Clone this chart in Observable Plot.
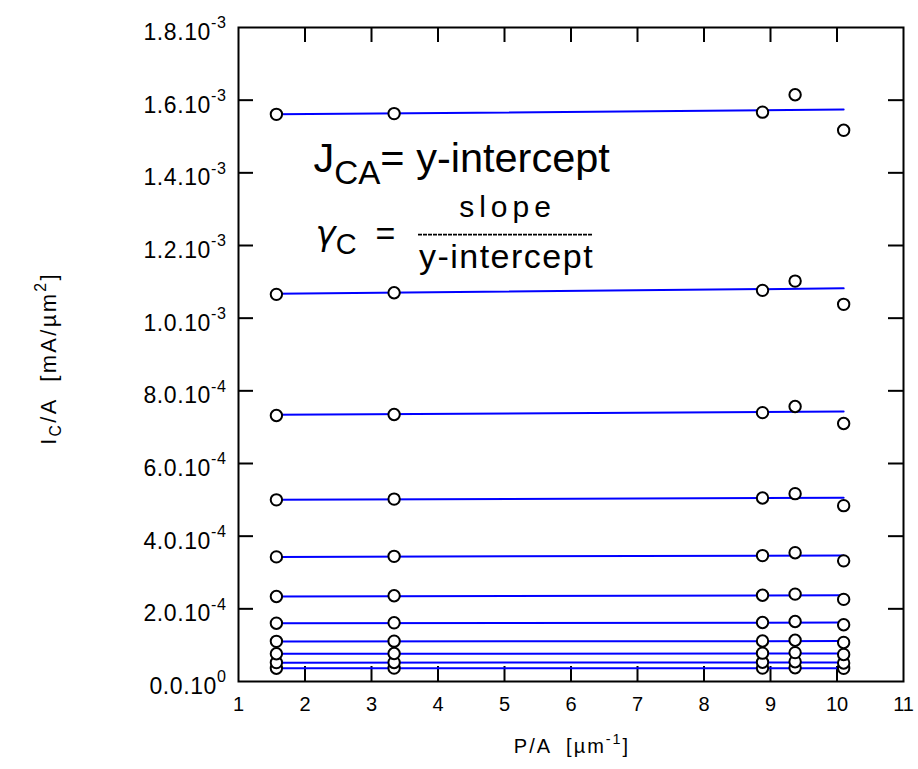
<!DOCTYPE html>
<html>
<head>
<meta charset="utf-8">
<script src="https://cdn.jsdelivr.net/npm/d3@7"></script>
<script src="https://cdn.jsdelivr.net/npm/@observablehq/plot@0.6"></script>
<style>
  html, body { margin: 0; padding: 0; background: #fff; }
  #chart svg { display: block; background: #fff; }
  #chart svg text { font-family: "Liberation Sans", Arial, sans-serif; white-space: pre; fill: #000; }
</style>
</head>
<body>
<div id="chart"></div>
<script>
// Perimeter-to-area ratio of the five emitter geometries [µm^-1]
const pOverA = [1.57, 3.34, 8.88, 9.37, 10.1];

// Collector current density I_C/A [mA/µm^2] per base-emitter bias step, lowest step first
const step1  = [0.366e-4, 0.368e-4, 0.370e-4, 0.380e-4, 0.362e-4];
const step2  = [0.520e-4, 0.525e-4, 0.530e-4, 0.545e-4, 0.510e-4];
const step3  = [0.763e-4, 0.770e-4, 0.780e-4, 0.795e-4, 0.745e-4];
const step4  = [1.105e-4, 1.110e-4, 1.115e-4, 1.135e-4, 1.075e-4];
const step5  = [1.605e-4, 1.615e-4, 1.625e-4, 1.652e-4, 1.562e-4];
const step6  = [2.340e-4, 2.360e-4, 2.375e-4, 2.405e-4, 2.260e-4];
const step7  = [3.430e-4, 3.445e-4, 3.465e-4, 3.545e-4, 3.320e-4];
const step8  = [5.000e-4, 5.020e-4, 5.050e-4, 5.170e-4, 4.840e-4];
const step9  = [7.320e-4, 7.350e-4, 7.400e-4, 7.570e-4, 7.100e-4];
const step10 = [10.655e-4, 10.700e-4, 10.765e-4, 11.020e-4, 10.380e-4];
const step11 = [15.610e-4, 15.630e-4, 15.670e-4, 16.150e-4, 15.170e-4];
const steps = [step1, step2, step3, step4, step5, step6, step7, step8, step9, step10, step11];

// Straight-line fit of each step, evaluated at the smallest and the largest P/A
const fitAtMin = [0.362e-4, 0.518e-4, 0.762e-4, 1.103e-4, 1.605e-4, 2.340e-4, 3.430e-4, 5.000e-4, 7.340e-4, 10.675e-4, 15.610e-4];
const fitAtMax = [0.366e-4, 0.524e-4, 0.770e-4, 1.112e-4, 1.622e-4, 2.375e-4, 3.470e-4, 5.060e-4, 7.430e-4, 10.820e-4, 15.740e-4];

// Axes
const xTicks = [1, 2, 3, 4, 5, 6, 7, 8, 9, 10, 11];
const yTicks = [0, 0.0002, 0.0004, 0.0006, 0.0008, 0.0010, 0.0012, 0.0014, 0.0016, 0.0018];
const yTickLabels = ["0.0.10^{0}", "2.0.10^{-4}", "4.0.10^{-4}", "6.0.10^{-4}", "8.0.10^{-4}",
                     "1.0.10^{-3}", "1.2.10^{-3}", "1.4.10^{-3}", "1.6.10^{-3}", "1.8.10^{-3}"];
const xLabel = "P/A  [µm^{-1}]";
const yLabel = "I_{C}/A  [mA/µm^{2}]";

// Annotation
const eqIntercept = "J_{CA}= y-intercept";
const eqGamma = "γ_{C}  =";
const eqNumerator = "slope";
const eqDenominator = "y-intercept";

// Long-format tables for the marks
const points = steps.flatMap((vals, s) => vals.map((v, i) => ({step: s, pa: pOverA[i], j: v})));
const fits = steps.flatMap((_, s) => [
  {step: s, pa: pOverA[0], j: fitAtMin[s]},
  {step: s, pa: pOverA[pOverA.length - 1], j: fitAtMax[s]}
]);

const W = 918, H = 769;
const mL = 238, mR = 15, mT = 27, mB = 88;
const innerW = W - mL - mR, innerH = H - mT - mB;
const tickLen = 15;
const inner = (a) => a.slice(1, -1);

const svg = Plot.plot({
  width: W, height: H,
  marginLeft: mL, marginRight: mR, marginTop: mT, marginBottom: mB,
  x: {domain: [1, 11], label: null},
  y: {domain: [0, 0.0018], label: null},
  marks: [
    // inward ticks on all four sides
    Plot.tickX(inner(xTicks), {x: d => d, insetTop: innerH - tickLen, stroke: "#000", strokeWidth: 2}),
    Plot.tickX(inner(xTicks), {x: d => d, insetBottom: innerH - tickLen, stroke: "#000", strokeWidth: 2}),
    Plot.tickY(inner(yTicks), {y: d => d, insetRight: innerW - tickLen, stroke: "#000", strokeWidth: 2}),
    Plot.tickY(inner(yTicks), {y: d => d, insetLeft: innerW - tickLen, stroke: "#000", strokeWidth: 2}),
    Plot.axisX({ticks: xTicks, tickSize: 0, tickPadding: 15, fontSize: 20, label: null, tickFormat: d => String(d)}),
    Plot.axisY({ticks: yTicks, tickSize: 0, tickPadding: 12, fontSize: 23, dy: 5, label: null,
                tickFormat: d => yTickLabels[yTicks.indexOf(d)]}),
    // fitted lines, then the measured points over them
    Plot.line(fits, {x: "pa", y: "j", z: "step", stroke: "#0000ff", strokeWidth: 2}),
    Plot.dot(points, {x: "pa", y: "j", r: 5.7, stroke: "#000", strokeWidth: 2, fill: "#fff"}),
    // axis titles
    Plot.text([xLabel], {text: d => d, frameAnchor: "bottom", lineAnchor: "middle", dy: 65, dx: 1, fontSize: 20}),
    Plot.text([yLabel], {text: d => d, frameAnchor: "left", textAnchor: "middle", lineAnchor: "middle",
                         dx: -190, dy: 4, rotate: -90, fontSize: 22}),
    // equations
    Plot.text([eqIntercept], {text: d => d, x: 2.128, y: 1.4375e-3, textAnchor: "start", fontSize: 41.5}),
    Plot.text([eqGamma], {text: d => d, x: 2.158, y: 1.2305e-3, textAnchor: "start", fontSize: 34}),
    Plot.text([eqNumerator], {text: d => d, x: 5.015, y: 1.3054e-3, dx: 2, fontSize: 30}),
    Plot.ruleY([1.2299e-3], {x1: 3.707, x2: 6.323, stroke: "#000", strokeWidth: 1.6, strokeDasharray: "4,1"}),
    Plot.text([eqDenominator], {text: d => d, x: 5.015, y: 1.1671e-3, dx: 1, fontSize: 34}),
    Plot.frame({stroke: "#000", strokeWidth: 2})
  ]
});

document.getElementById("chart").append(svg);

// Per-string typesetting: letter spacing, script size and offset, and a face for a leading symbol
const textStyle = {
  [eqIntercept]: {subScale: 0.8, subShift: 0.27},
  [eqGamma]: {subScale: 0.85, subShift: 0.25, leadFamily: "'DejaVu Sans', sans-serif", leadStyle: "italic"},
  [eqNumerator]: {letterSpacing: 5},
  [eqDenominator]: {letterSpacing: 1.5},
  [yLabel]: {letterSpacing: 2.3, subScale: 0.72, subShift: 0.25, supScale: 0.72, supShift: 0.45},
  [xLabel]: {letterSpacing: 2, supScale: 0.72, supShift: 0.45}
};
for (const label of yTickLabels) textStyle[label] = {letterSpacing: 0.6};

// Turn _{...} and ^{...} into sub- and superscript tspans
const svgNS = "http://www.w3.org/2000/svg";
function typeset(el) {
  const raw = el.textContent;
  const {letterSpacing, leadFamily, leadStyle, subScale = 0.72, subShift = 0.3, supScale = 0.7, supShift = 0.5} = textStyle[raw] || {};
  if (letterSpacing != null) el.style.letterSpacing = letterSpacing + "px";
  if (!/[_^]\{/.test(raw)) return;
  const fs = parseFloat(getComputedStyle(el).fontSize);
  const re = /([_^])\{([^}]*)\}/g;
  const parts = [];
  let last = 0, m;
  while ((m = re.exec(raw))) {
    if (m.index > last) parts.push({text: raw.slice(last, m.index), kind: ""});
    parts.push({text: m[2], kind: m[1]});
    last = re.lastIndex;
  }
  if (last < raw.length) parts.push({text: raw.slice(last), kind: ""});
  while (el.firstChild) el.removeChild(el.firstChild);
  let offset = 0;
  parts.forEach((p, i) => {
    const target = p.kind === "_" ? subShift * fs : p.kind === "^" ? -supShift * fs : 0;
    const ts = document.createElementNS(svgNS, "tspan");
    if (target !== offset) ts.setAttribute("dy", target - offset);
    if (p.kind) ts.setAttribute("font-size", (p.kind === "_" ? subScale : supScale) * fs);
    if (i === 0 && leadFamily) ts.style.fontFamily = leadFamily;
    if (i === 0 && leadStyle) ts.style.fontStyle = leadStyle;
    ts.textContent = p.text;
    el.appendChild(ts);
    offset = target;
  });
}
svg.querySelectorAll("text").forEach(typeset);
</script>
</body>
</html>
